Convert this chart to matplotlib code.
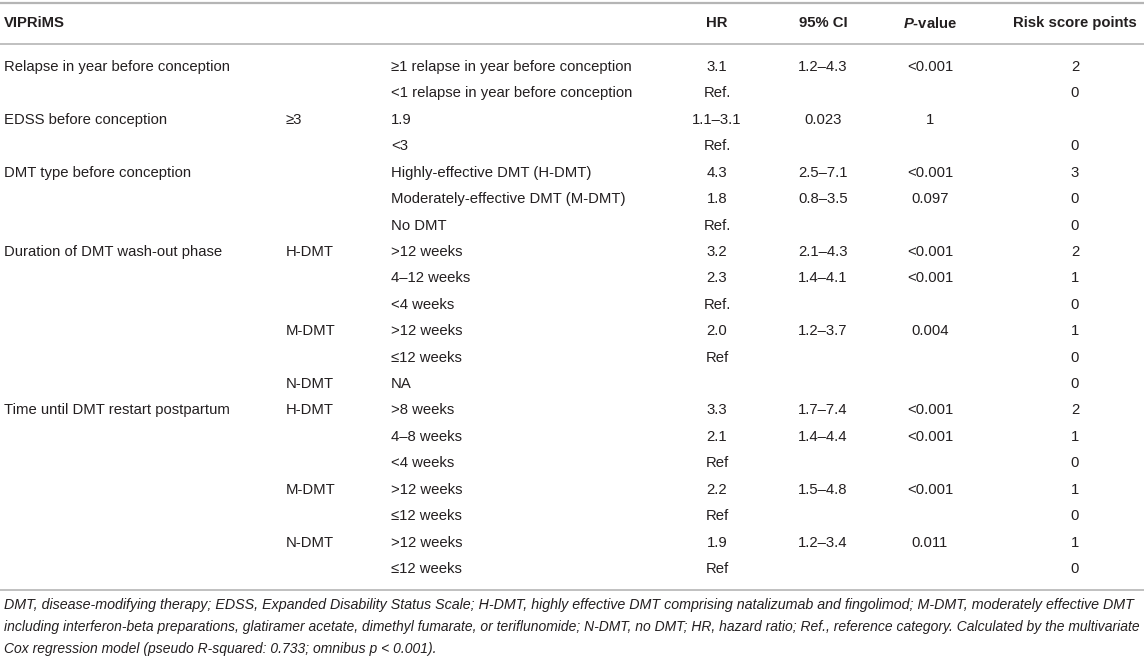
import matplotlib
matplotlib.use("Agg")
import matplotlib.pyplot as plt

# table content, one entry per body row
factors = [
    "Relapse in year before conception", "",
    "EDSS before conception", "",
    "DMT type before conception", "", "",
    "Duration of DMT wash-out phase", "", "", "", "", "",
    "Time until DMT restart postpartum", "", "", "", "", "", "",
]
groups = [
    "", "",
    "≥3", "",
    "", "", "",
    "H-DMT", "", "", "M-DMT", "", "N-DMT",
    "H-DMT", "", "", "M-DMT", "", "N-DMT", "",
]
levels = [
    "≥1 relapse in year before conception", "<1 relapse in year before conception",
    "1.9", "<3",
    "Highly-effective DMT (H-DMT)", "Moderately-effective DMT (M-DMT)", "No DMT",
    ">12 weeks", "4–12 weeks", "<4 weeks", ">12 weeks", "≤12 weeks", "NA",
    ">8 weeks", "4–8 weeks", "<4 weeks", ">12 weeks", "≤12 weeks", ">12 weeks", "≤12 weeks",
]
hr = ["3.1", "Ref.", "1.1–3.1", "Ref.", "4.3", "1.8", "Ref.",
      "3.2", "2.3", "Ref.", "2.0", "Ref", "",
      "3.3", "2.1", "Ref", "2.2", "Ref", "1.9", "Ref"]
ci = ["1.2–4.3", "", "0.023", "", "2.5–7.1", "0.8–3.5", "",
      "2.1–4.3", "1.4–4.1", "", "1.2–3.7", "", "",
      "1.7–7.4", "1.4–4.4", "", "1.5–4.8", "", "1.2–3.4", ""]
pval = ["<0.001", "", "1", "", "<0.001", "0.097", "",
        "<0.001", "<0.001", "", "0.004", "", "",
        "<0.001", "<0.001", "", "<0.001", "", "0.011", ""]
points = ["2", "0", "", "0", "3", "0", "0",
          "2", "1", "0", "1", "0", "0",
          "2", "1", "0", "1", "0", "1", "0"]

footnote = [
    "DMT, disease-modifying therapy; EDSS, Expanded Disability Status Scale; H-DMT, highly effective DMT comprising natalizumab and fingolimod; M-DMT, moderately effective DMT",
    "including interferon-beta preparations, glatiramer acetate, dimethyl fumarate, or teriflunomide; N-DMT, no DMT; HR, hazard ratio; Ref., reference category. Calculated by the multivariate",
    "Cox regression model (pseudo R-squared: 0.733; omnibus p < 0.001).",
]

plt.rcParams["font.family"] = ["Liberation Sans", "DejaVu Sans"]
plt.rcParams["mathtext.fontset"] = "custom"
plt.rcParams["mathtext.rm"] = "Liberation Sans"
plt.rcParams["mathtext.it"] = "Liberation Sans:italic"
plt.rcParams["mathtext.bf"] = "Liberation Sans:bold"
plt.rcParams["mathtext.bfit"] = "Liberation Sans:italic:bold"
TXT = "#231f20"
LINE = "#b5b5b5"
FS = 10.7

fig = plt.figure(figsize=(11.44, 6.57), dpi=100)
ax = fig.add_axes([0, 0, 1, 1])
ax.set_xlim(0, 1144)
ax.set_ylim(657, 0)
ax.axis("off")

# column anchors in pixels
x_fac, x_grp, x_lvl = 4, 286, 391
x_hr, x_ci, x_p, x_pts = 717, 823, 930, 1075
y_head = 23
y0, dy = 67, 26.42

# rules
y_last = y0 + dy * (len(levels) - 1)
for yy, w in [(3, 1.6), (43.5, 1.2), (y_last + 21, 1.2)]:
    ax.plot([0, 1144], [yy, yy], color=LINE, lw=w, solid_capstyle="butt")

# header
hkw = dict(va="center", fontsize=FS, fontweight="bold", color=TXT)
ax.text(x_fac, y_head, "VIPRiMS", ha="left", **hkw)
ax.text(x_hr, y_head, "HR", ha="center", **hkw)
ax.text(x_ci, y_head, "95% CI", ha="center", **hkw)
ax.text(x_p, y_head, r"$\bfit{P}$" + "-value", ha="center", **hkw)
ax.text(x_pts, y_head, "Risk score points", ha="center", **hkw)

kw = dict(va="center", fontsize=FS, color=TXT)
for i in range(len(levels)):
    y = y0 + i * dy
    ax.text(x_fac, y, factors[i], ha="left", **kw)
    ax.text(x_grp, y, groups[i], ha="left", **kw)
    ax.text(x_lvl, y, levels[i], ha="left", **kw)
    ax.text(x_hr, y, hr[i], ha="center", **kw)
    ax.text(x_ci, y, ci[i], ha="center", **kw)
    ax.text(x_p, y, pval[i], ha="center", **kw)
    ax.text(x_pts, y, points[i], ha="center", **kw)

# footnote: first two lines are justified to the table width in the original
renderer = fig.canvas.get_renderer()
foot_y = [605, 627, 649]
sizes = []
for j, line in enumerate(footnote):
    t = ax.text(x_fac, foot_y[j], line, ha="left", va="center",
                fontsize=10.2, style="italic", color=TXT)
    if j < 2:
        width = t.get_window_extent(renderer).width
        t.set_fontsize(10.2 * (1138 - x_fac) / width)
        sizes.append(t.get_fontsize())
    else:
        t.set_fontsize(min(sizes))

fig.savefig("out.png", dpi=100)
